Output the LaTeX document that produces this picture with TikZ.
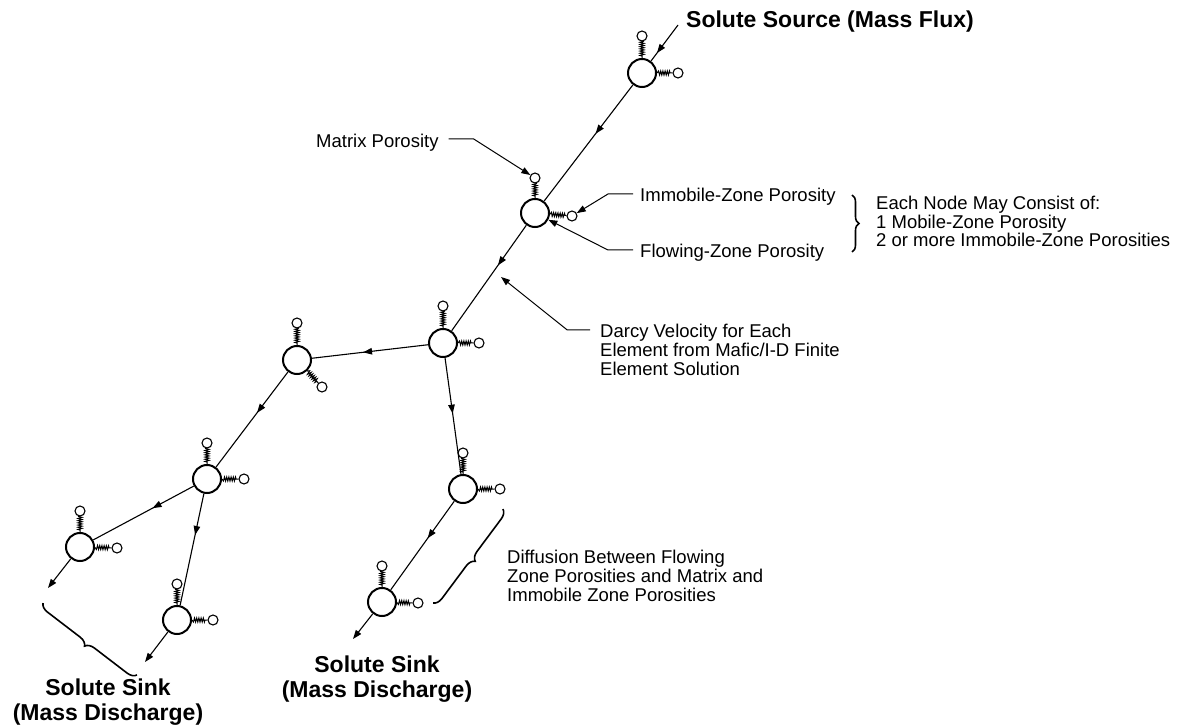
\documentclass[tikz,border=0pt]{standalone}
\usepackage{fontspec}
\setmainfont{Liberation Sans}
\usetikzlibrary{arrows.meta,decorations.pathmorphing,decorations.pathreplacing,decorations.markings}

\tikzset{
  cell/.style={circle,draw,line width=2pt,minimum size=28pt,inner sep=0pt},
  pore/.style={circle,draw,line width=1.1pt,minimum size=10pt,inner sep=0pt},
  spring/.style={line width=1pt,decorate,decoration={zigzag,segment length=2.2pt,amplitude=2pt,pre length=2pt,post length=1.5pt}},
  flow/.style={line width=1.1pt,postaction={decorate},
    decoration={markings,mark=at position #1 with {\arrow{Triangle[length=9pt,width=6.5pt]}}}},
  flow/.default=0.45,
  outflow/.style={line width=1.1pt,-{Triangle[length=9pt,width=6.5pt]}},
  lead/.style={line width=1pt,-{Triangle[length=9pt,width=6.5pt]}},
  lbl/.style={anchor=base west,inner sep=0pt,align=left,font=\fontsize{18.5}{18.8}\selectfont},
  sink/.style={anchor=base,inner sep=0pt,align=center,font=\fontsize{23}{25}\selectfont\bfseries},
  curly/.style={line width=1.6pt,decorate,decoration={brace,amplitude=#1}},
  curly/.default=9pt,
}

\begin{document}
\begin{tikzpicture}[x=1pt,y=-1pt]
  \useasboundingbox (0,0) rectangle (1181,727);

  % cells of the network
  \node[cell] (n1) at (642,73) {};
  \node[cell] (n2) at (535,213) {};
  \node[cell] (n3) at (443,343) {};
  \node[cell] (n4) at (297,360) {};
  \node[cell] (n5) at (207,479) {};
  \node[cell] (n6) at (80,547) {};
  \node[cell] (n7) at (177,620) {};
  \node[cell] (n8) at (463,489) {};
  \node[cell] (n9) at (382,602) {};

  % immobile zones on springs
  \node[pore] (n1u) at (642,36) {};
  \node[pore] (n1r) at (678,73) {};
  \node[pore] (n2u) at (535,178) {};
  \node[pore] (n2r) at (572,216) {};
  \node[pore] (n3u) at (443,306) {};
  \node[pore] (n3r) at (479,343) {};
  \node[pore] (n4u) at (297,323) {};
  \node[pore] (n4r) at (322,387) {};
  \node[pore] (n5u) at (207,443) {};
  \node[pore] (n5r) at (244,479) {};
  \node[pore] (n6u) at (80,511) {};
  \node[pore] (n6r) at (117,548) {};
  \node[pore] (n7u) at (177,584) {};
  \node[pore] (n7r) at (213,620) {};
  \node[pore] (n8u) at (463,453) {};
  \node[pore] (n8r) at (500,489) {};
  \node[pore] (n9u) at (382,566) {};
  \node[pore] (n9r) at (418,603) {};

  \foreach \n in {n1,n2,n3,n4,n5,n6,n7,n8,n9}
    \draw[spring] (\n) -- (\n u)
                  (\n) -- (\n r);

  % flow paths
  \coordinate (src) at (678,25);
  \coordinate (e6) at (48,588);
  \coordinate (e7) at (145,662);
  \coordinate (e9) at (353,639);
  \draw[flow=0.78] (src) -- (n1);
  \draw[flow=0.42] (n1) -- (n2);
  \draw[flow=0.38] (n2) -- (n3);
  \draw[flow=0.56] (n3) -- (n4);
  \draw[flow=0.48] (n3) -- (n8);
  \draw[flow=0.43] (n4) -- (n5);
  \draw[flow=0.41] (n5) -- (n6);
  \draw[flow=0.37] (n5) -- (n7);
  \draw[flow=0.42] (n8) -- (n9);
  \draw[outflow] (n6) -- (e6);
  \draw[outflow] (n7) -- (e7);
  \draw[outflow] (n9) -- (e9);

  % labels (base = last line)
  \node[anchor=base west,inner sep=0pt,font=\fontsize{23}{25}\selectfont\bfseries] (source) at (686,28) {Solute Source (Mass Flux)};
  \node[lbl] (mlab) at (316,148) {Matrix Porosity};
  \node[lbl] (ilab) at (640,202) {Immobile-Zone Porosity};
  \node[lbl] (flab) at (640,258) {Flowing-Zone Porosity};
  \node[lbl] (nlab) at (876,247) {Each Node May Consist of:\\1 Mobile-Zone Porosity\\2 or more Immobile-Zone Porosities};
  \node[lbl] (dlab) at (600,375) {Darcy Velocity for Each\\Element from Mafic/I-D Finite\\Element Solution};
  \node[lbl] (difflab) at (507,601) {Diffusion Between Flowing\\Zone Porosities and Matrix and\\Immobile Zone Porosities};
  \node[sink] (sinka) at (108,720) {Solute Sink\\(Mass Discharge)};
  \node[sink] (sinkb) at (377,697) {Solute Sink\\(Mass Discharge)};

  % leaders
  \coordinate (vel) at (501,277);
  \draw[lead] (mlab.base east) ++(10,-9) -- ++(25,0) -- (n2u);
  \draw[lead] (ilab.base west) ++(-7,-8) -- ++(-25,0) -- (n2r);
  \draw[lead] (flab.base west) ++(-7,-8) -- ++(-25,0) -- (n2);
  \draw[lead] (dlab.north west) ++(-10,6) -- ++(-23,0) -- (vel);

  % braces
  \draw[curly=7pt] (852,195) -- (852,252);
  \draw[curly] (503,509) -- (433,603);
  \draw[curly] (137,675) -- (43,603);
\end{tikzpicture}
\end{document}
